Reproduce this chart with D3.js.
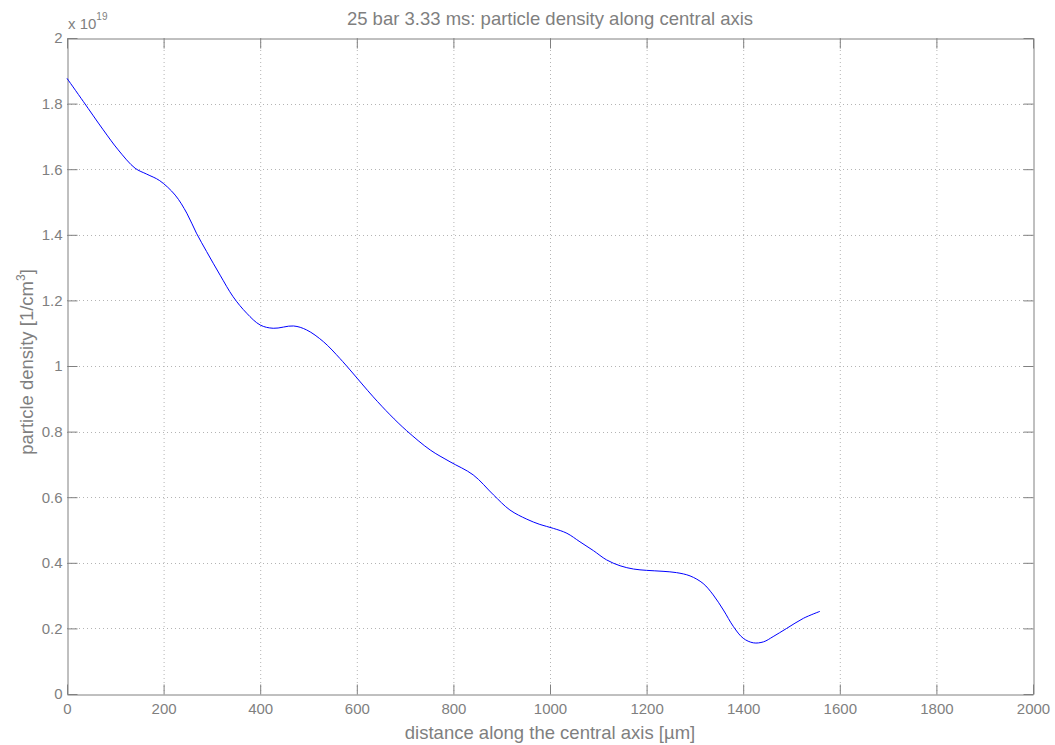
<!DOCTYPE html>
<html>
<head>
<meta charset="utf-8">
<script src="https://cdn.jsdelivr.net/npm/d3@7"></script>
<style>
  body { margin: 0; background: #fff; }
  svg text { font-family: "Liberation Sans", Arial, sans-serif; fill: #7f7f7f; }
</style>
</head>
<body>
<svg id="chart" width="1055" height="745"></svg>
<script>
// distance along the axis [um] and density [1e19 1/cm^3]
const distance = [0, 34, 75, 106, 141, 165, 192, 224, 248, 268, 289, 317, 344, 372, 400, 427, 469, 496, 531, 565,
  586, 634, 669, 703, 752, 793, 841, 883, 917, 952, 979, 1007, 1035, 1062, 1090, 1117, 1145, 1173, 1200, 1234,
  1262, 1290, 1317, 1338, 1359, 1380, 1400, 1421, 1442, 1462, 1490, 1525, 1559]
const density = [1.877, 1.806, 1.72, 1.659, 1.603, 1.585, 1.565, 1.521, 1.466, 1.405, 1.349, 1.277, 1.211, 1.161,
  1.125, 1.115, 1.122, 1.110, 1.074, 1.023, 0.988, 0.906, 0.851, 0.803, 0.744, 0.708, 0.668, 0.607, 0.561, 0.533,
  0.517, 0.505, 0.490, 0.464, 0.437, 0.409, 0.391, 0.381, 0.377, 0.374, 0.370, 0.360, 0.337, 0.302, 0.256, 0.205,
  0.170, 0.156, 0.159, 0.175, 0.200, 0.231, 0.252]

const xTicks = [0, 200, 400, 600, 800, 1000, 1200, 1400, 1600, 1800, 2000]
const yTicks = [0, 0.2, 0.4, 0.6, 0.8, 1, 1.2, 1.4, 1.6, 1.8, 2]
const yTickLabels = ["0", "0.2", "0.4", "0.6", "0.8", "1", "1.2", "1.4", "1.6", "1.8", "2"]

const plotLeft = 67, plotRight = 1033, plotTop = 38, plotBottom = 694
const axisColor = '#808080', gridColor = '#b4b4b4'

const svg = d3.select('#chart')

const x = d3.scaleLinear().domain([0, 2000]).range([plotLeft, plotRight])
const y = d3.scaleLinear().domain([0, 2]).range([plotBottom, plotTop])

// grid
svg.append('g').selectAll('line')
  .data(xTicks.slice(1, -1))
  .join('line')
  .attr('x1', d => x(d) + 0.5).attr('x2', d => x(d) + 0.5)
  .attr('y1', plotTop).attr('y2', plotBottom)
  .style('stroke', gridColor).style('stroke-dasharray', '1,3')
svg.append('g').selectAll('line')
  .data(yTicks.slice(1, -1))
  .join('line')
  .attr('y1', d => Math.round(y(d)) + 0.5).attr('y2', d => Math.round(y(d)) + 0.5)
  .attr('x1', plotLeft).attr('x2', plotRight)
  .style('stroke', gridColor).style('stroke-dasharray', '1,3')

// axes
const xAxis = svg.append('g')
  .attr('transform', `translate(0,${plotBottom + 0.5})`)
  .call(d3.axisBottom(x).tickValues(xTicks).tickFormat(d3.format('d')).tickSizeInner(-10).tickSizeOuter(0).tickPadding(8))
const yAxis = svg.append('g')
  .attr('transform', `translate(${plotLeft + 0.5},0)`)
  .call(d3.axisLeft(y).tickValues(yTicks).tickFormat((d, i) => yTickLabels[i]).tickSizeInner(-10).tickSizeOuter(0).tickPadding(5))
const xTop = svg.append('g')
  .attr('transform', `translate(0,${plotTop + 0.5})`)
  .call(d3.axisTop(x).tickValues(xTicks).tickSizeInner(-10).tickSizeOuter(0).tickFormat(''))
const yRight = svg.append('g')
  .attr('transform', `translate(${plotRight + 0.5},0)`)
  .call(d3.axisRight(y).tickValues(yTicks).tickSizeInner(-10).tickSizeOuter(0).tickFormat(''))

;[xAxis, yAxis, xTop, yRight].forEach(g => {
  g.selectAll('path, line').style('stroke', axisColor)
  g.select('.domain').style('stroke', axisColor)
  g.selectAll('text').style('font-size', '15px').style('fill', '#7f7f7f')
    .style('font-family', '"Liberation Sans", Arial, sans-serif')
})
xAxis.selectAll('text').attr('dy', '0.75em')

// the curve
const line = d3.line()
  .x((d, i) => x(distance[i]))
  .y(d => y(d))
  .curve(d3.curveCatmullRom.alpha(0.5))

svg.append('path')
  .datum(density)
  .attr('d', line)
  .style('fill', 'none')
  .style('stroke', '#0000ff')
  .style('stroke-width', 1)

// texts
svg.append('text')
  .attr('x', (plotLeft + plotRight) / 2).attr('y', 25)
  .attr('text-anchor', 'middle')
  .style('font-size', '18.5px')
  .text('25 bar 3.33 ms: particle density along central axis')

svg.append('text')
  .attr('x', (plotLeft + plotRight) / 2).attr('y', 739)
  .attr('text-anchor', 'middle')
  .style('font-size', '18.5px')
  .text('distance along the central axis [µm]')

const ylab = svg.append('text')
  .attr('transform', `translate(33,362) rotate(-90)`)
  .attr('text-anchor', 'middle')
  .style('font-size', '18.5px')
ylab.append('tspan').text('particle density [1/cm')
ylab.append('tspan').attr('dy', -8).style('font-size', '12px').text('3')
ylab.append('tspan').attr('dy', 8).text(']')

const exp = svg.append('text')
  .attr('x', 68).attr('y', 29)
  .style('font-size', '15px')
exp.append('tspan').text('x 10')
exp.append('tspan').attr('dy', -9).style('font-size', '10px').text('19')
</script>
</body>
</html>
